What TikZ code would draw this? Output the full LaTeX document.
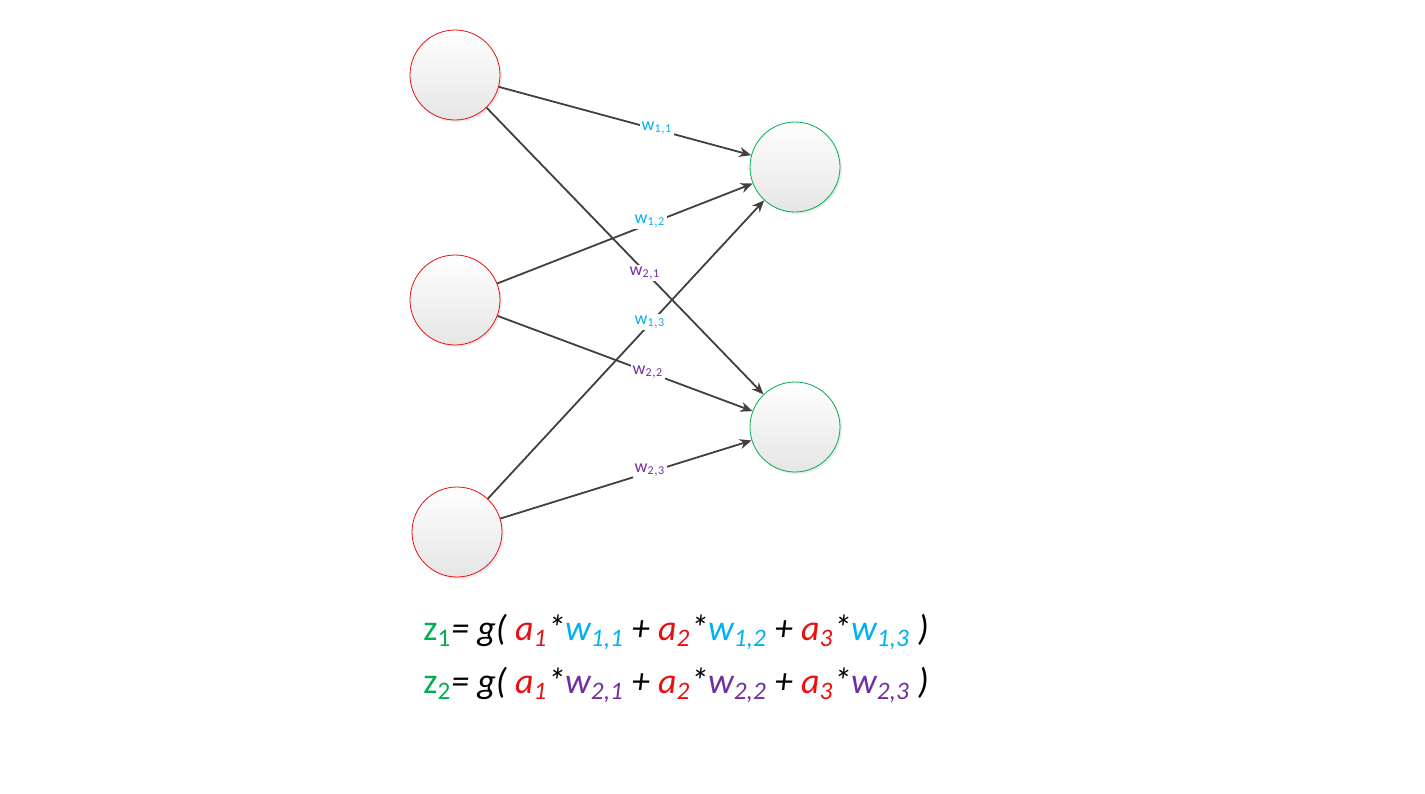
\documentclass[tikz,border=0pt]{standalone}
\usepackage{fontspec}
\setmainfont{Carlito}
\usetikzlibrary{arrows.meta,shadows}
\definecolor{cred}{HTML}{E81010}
\definecolor{cgreen}{HTML}{00B050}
\definecolor{cblue}{HTML}{00B0F0}
\definecolor{cpurp}{HTML}{7030A0}
\definecolor{cedge}{HTML}{404040}
\tikzset{
  neuron/.style={circle,minimum size=45pt,inner sep=0pt,top color=white,bottom color=black!10,
    drop shadow={opacity=0.15,shadow xshift=1pt,shadow yshift=-1pt}},
  innode/.style={neuron,draw=cred,line width=0.4pt},
  outnode/.style={neuron,draw=cgreen,line width=0.4pt},
  edge/.style={draw=cedge,line width=0.9pt,-{Stealth[length=6pt,width=5pt]}},
  wlab/.style={fill=white,inner sep=1pt,font=\fontsize{9}{10}\selectfont},
}
\begin{document}
\begin{tikzpicture}[x=0.5pt,y=-0.5pt]
\useasboundingbox (0,0) rectangle (1425,793);
\node[innode] (a1) at (455,75) {};
\node[innode] (a2) at (455,300) {};
\node[innode] (a3) at (457,532) {};
\node[outnode] (z1) at (795,167) {};
\node[outnode] (z2) at (795,427) {};
\draw[edge] (a1) -- (z1);
\draw[edge] (a2) -- (z1);
\draw[edge] (a3) -- (z1);
\draw[edge] (a1) -- (z2);
\draw[edge] (a2) -- (z2);
\draw[edge] (a3) -- (z2);
\node[wlab,text=cblue] (l11) at (657,128) {w$_{\mathrm{1,1}}$};
\node[wlab,text=cblue] (l12) at (650,221) {w$_{\mathrm{1,2}}$};
\node[wlab,text=cpurp] (l21) at (645,273) {w$_{\mathrm{2,1}}$};
\node[wlab,text=cblue] (l13) at (650,322) {w$_{\mathrm{1,3}}$};
\node[wlab,text=cpurp] (l22) at (648,372) {w$_{\mathrm{2,2}}$};
\node[wlab,text=cpurp] (l23) at (650,470) {w$_{\mathrm{2,3}}$};
\node[anchor=west,font=\fontsize{18}{20}\selectfont,inner sep=0pt] (f1) at (423,632)
 {\textcolor{cgreen}{z\textsubscript{1}}\textit{= g( \textcolor{cred}{a\textsubscript{1}}*\textcolor{cblue}{w\textsubscript{1,1}} + \textcolor{cred}{a\textsubscript{2}}*\textcolor{cblue}{w\textsubscript{1,2}} + \textcolor{cred}{a\textsubscript{3}}*\textcolor{cblue}{w\textsubscript{1,3}} )}};
\node[anchor=west,font=\fontsize{18}{20}\selectfont,inner sep=0pt] (f2) at (423,685)
 {\textcolor{cgreen}{z\textsubscript{2}}\textit{= g( \textcolor{cred}{a\textsubscript{1}}*\textcolor{cpurp}{w\textsubscript{2,1}} + \textcolor{cred}{a\textsubscript{2}}*\textcolor{cpurp}{w\textsubscript{2,2}} + \textcolor{cred}{a\textsubscript{3}}*\textcolor{cpurp}{w\textsubscript{2,3}} )}};
\end{tikzpicture}
\end{document}
